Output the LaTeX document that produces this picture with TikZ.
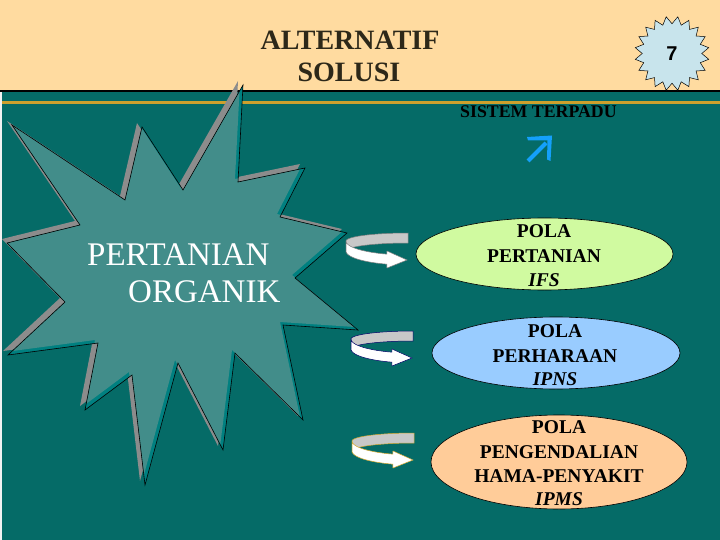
\documentclass[tikz,border=0pt]{standalone}
\usepackage{fontspec}
\setmainfont{Liberation Serif}
\newfontfamily\arialfont{Liberation Sans}
\usetikzlibrary{shapes.geometric}
\definecolor{cream}{RGB}{255,219,160}
\definecolor{bgteal}{RGB}{5,107,103}
\definecolor{goldline}{RGB}{205,160,45}
\definecolor{starfill}{RGB}{66,141,138}
\definecolor{starteal}{RGB}{0,128,128}
\definecolor{shadowgray}{RGB}{140,140,140}
\definecolor{badgefill}{RGB}{200,228,236}
\definecolor{egreen}{RGB}{208,250,160}
\definecolor{eblue}{RGB}{153,204,255}
\definecolor{epeach}{RGB}{255,204,153}
\definecolor{ribbon}{RGB}{200,200,200}
\definecolor{arrowblue}{RGB}{20,160,250}
\definecolor{titlecol}{RGB}{45,40,25}
\tikzset{
  eshape/.style={ellipse, draw=black, line width=0.6pt, inner sep=0pt},
  eline/.style={anchor=base, inner sep=0pt, text=black, font=\bfseries\fontsize{19.5}{24}\selectfont},
  titletext/.style={anchor=base, inner sep=0pt, text=titlecol, font=\bfseries\fontsize{28}{32}\selectfont},
  startext/.style={anchor=base west, inner sep=0pt, text=white, font=\fontsize{33}{38}\selectfont},
  pics/uturn/.style={code={
    \filldraw[fill=ribbon, draw=#1, line width=0.5pt]
      plot[domain=90:180, samples=24] ({62*cos(\x)},{-9-8*sin(\x)})
      -- (-62,1)
      -- plot[domain=180:90, samples=24] ({62*cos(\x)},{1-8*sin(\x)}) -- cycle;
    \filldraw[fill=white, draw=#1, line width=0.5pt]
      plot[domain=180:250, samples=24] ({62*cos(\x)},{-9-14*sin(\x)})
      -- (-21,1) -- (-1,10) -- (-21,18)
      -- plot[domain=250:180, samples=24] ({62*cos(\x)},{1-14*sin(\x)}) -- cycle;
  }}
}
\def\starpath{(243,85) -- (238,182) -- (305,168) -- (280,217) -- (347,233) -- (295,278) -- (358,330) -- (283,325) -- (303,420) -- (235,353) -- (223,450) -- (178,363) -- (145,485) -- (132,375) -- (85,410) -- (98,343) -- (8,355) -- (65,302) -- (7,243) -- (80,225) -- (12,125) -- (125,200) -- (142,127) -- (183,190) -- cycle}
\begin{document}
\begin{tikzpicture}[x=1pt,y=-1pt]
\useasboundingbox (0,0) rectangle (720,540);
% background bands
\fill[cream] (0,0) rectangle (720,91);
\fill[black] (0,90) rectangle (720,92.5);
\fill[bgteal] (0,92.5) rectangle (720,540);
\fill[goldline] (0,101) rectangle (720,104);
\fill[white!90!gray] (0,92.5) rectangle (1.5,540);
% big star
\fill[shadowgray, shift={(-5,-4)}] \starpath;
\fill[starteal] \starpath;
\begin{scope}
  \clip \starpath;
  \fill[starfill, shift={(-3,-3)}] \starpath;
\end{scope}
\draw[black, line width=0.6pt, line join=miter] \starpath;
\node[startext] (pert) at (87,265) {PERTANIAN};
\node[startext] (org) at (128,302) {ORGANIK};
% title
\node[titletext] (t1) at (350,50) {ALTERNATIF};
\node[titletext] (t2) at (349,82) {SOLUSI};
% badge
\node[star, star points=20, star point ratio=0.8, minimum size=59.5pt, draw=black, line width=0.5pt, fill=badgefill, inner sep=0pt, font=\arialfont\bfseries\fontsize{20}{24}\selectfont] (badge) at (672,53.5) {7};
% sistem terpadu
\node[anchor=base west, inner sep=0pt, text=black, font=\bfseries\fontsize{17.8}{20}\selectfont] (sis) at (460,118) {SISTEM TERPADU};
% blue arrow
\draw[arrowblue, line width=4pt] (528,161) -- (546,143);
\fill[arrowblue] (527,137) -- (552,135.5) -- (550.5,161) -- (547,159.5) -- (547.5,140.5) -- (528,140.5) -- cycle;
% ellipses
\node[eshape, fill=egreen, minimum width=257pt, minimum height=72pt] (e1) at (544.5,254) {};
\node[eshape, fill=eblue, minimum width=248pt, minimum height=72pt] (e2) at (556,353) {};
\node[eshape, fill=epeach, minimum width=256pt, minimum height=94pt] (e3) at (559,462) {};
\node[eline] (e1a) at (544,237) {POLA};
\node[eline] (e1b) at (544,262) {PERTANIAN};
\node[eline, font=\bfseries\itshape\fontsize{19.5}{24}\selectfont] (e1c) at (544,286) {IFS};
\node[eline] (e2a) at (555,337) {POLA};
\node[eline] (e2b) at (555,362) {PERHARAAN};
\node[eline, font=\bfseries\itshape\fontsize{19.5}{24}\selectfont] (e2c) at (555,385) {IPNS};
\node[eline] (e3a) at (559,433) {POLA};
\node[eline] (e3b) at (559,458) {PENGENDALIAN};
\node[eline] (e3c) at (559,482) {HAMA-PENYAKIT};
\node[eline, font=\bfseries\itshape\fontsize{19.5}{24}\selectfont] (e3d) at (559,505) {IPMS};
% u-turn arrows
\pic (u1) at (408,250) {uturn={gray}};
\pic (u2) at (413,348) {uturn={blue!40!black}};
\pic (u3) at (414,450) {uturn={brown!70!yellow}};
\end{tikzpicture}
\end{document}
